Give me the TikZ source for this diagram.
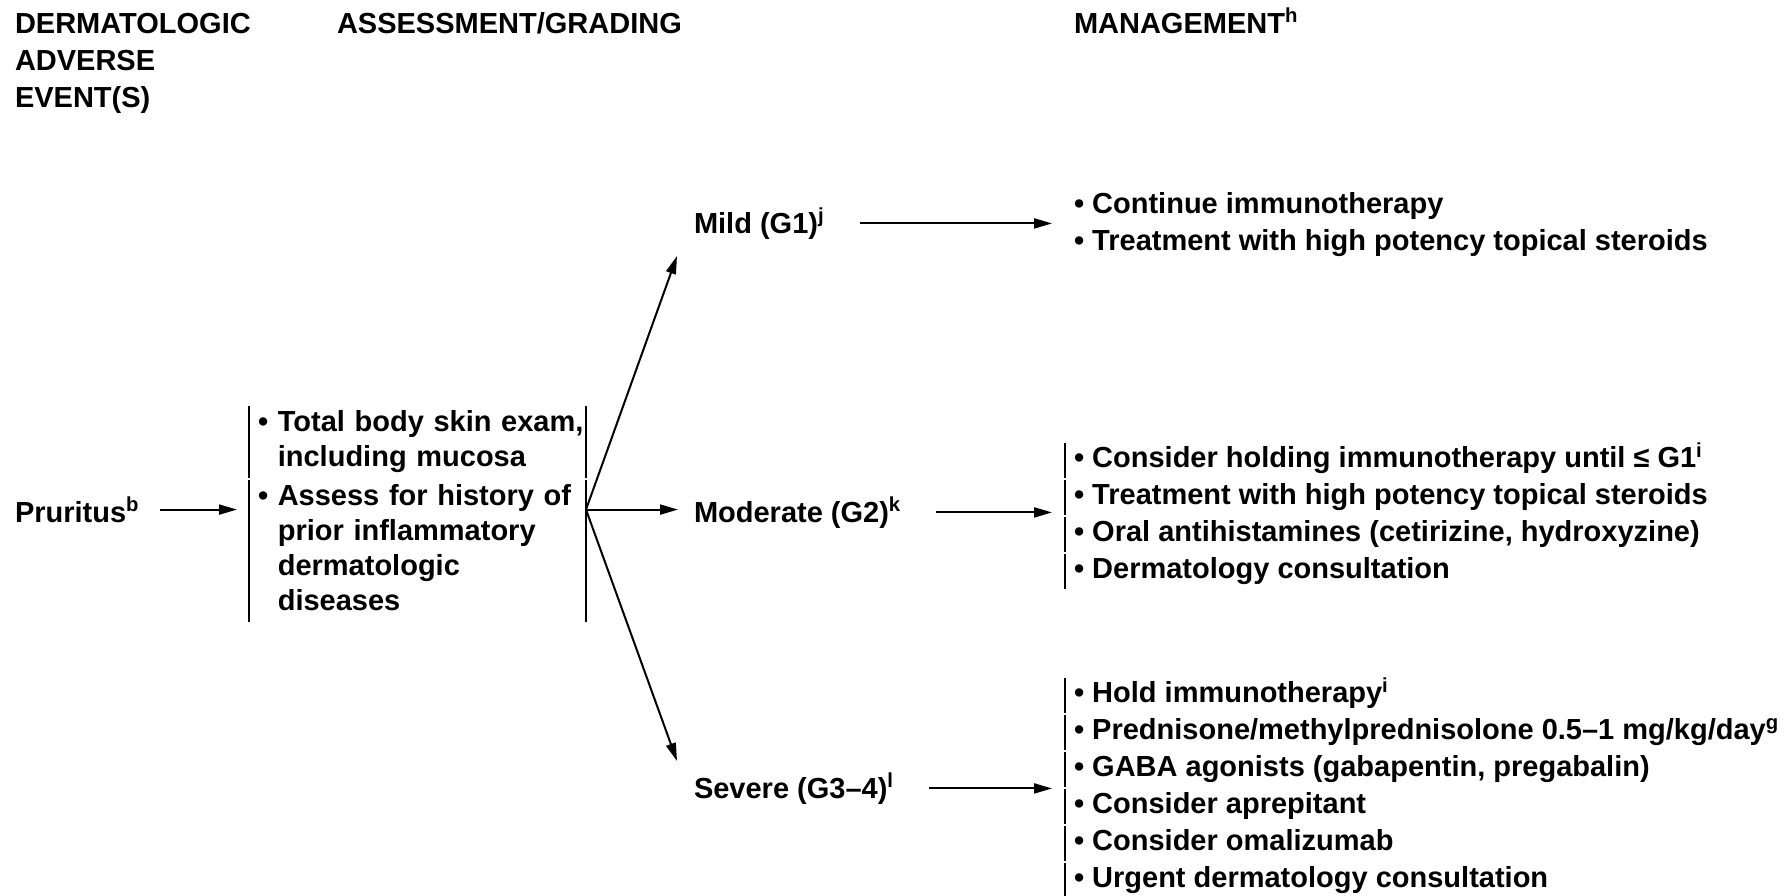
\documentclass[tikz,border=0pt]{standalone}
\usepackage{fontspec}
\setmainfont{Liberation Sans}
\usetikzlibrary{arrows.meta,positioning}

\tikzset{every picture/.style={line width=1pt}}
\tikzset{
  txt/.style={inner sep=0pt, font=\bfseries\fontsize{14.5}{17.5}\selectfont, align=left},
  hdr/.style={inner sep=0pt, font=\bfseries\fontsize{14.5}{18.5}\selectfont, align=left},
  asmbox/.style={txt, inner xsep=4pt, inner ysep=0.5pt, text width=159.5pt, anchor=north west},
  itm/.style={txt, inner xsep=4pt, inner ysep=0pt, anchor=north west, text height=12.25pt, text depth=5.25pt},
  bar/.style={line width=1pt, shorten <=0.5pt, shorten >=0.5pt},
  arr/.style={-{Triangle[length=9pt,width=5pt]}},
}

\begin{document}
\begin{tikzpicture}[x=0.5pt,y=0.5pt,yscale=-1]
\useasboundingbox (0,0) rectangle (1788,895);

% Headers
\node[hdr, anchor=north west] (hdae) at (14,12) {DERMATOLOGIC\\ADVERSE\\EVENT(S)};
\node[hdr, anchor=base west] (hdag) at (336,33) {ASSESSMENT/GRADING};
\node[hdr, anchor=base west] (hdmg) at (1073,33) {MANAGEMENT\textsuperscript{h}};

% Text Node
\node[txt, anchor=base west] (prur) at (14,522) {Pruritus\textsuperscript{b}};

% Assessment
\node[asmbox] (asm1) at (249,405) {\begin{tabular}{@{}l@{\ }l@{}}•&Total body skin exam,\\&including mucosa\end{tabular}};
\node[asmbox] (asm2) at (asm1.south west) {\begin{tabular}{@{}l@{\ }l@{}}•&Assess for history of\\&prior inflammatory\\&dermatologic\\&diseases\end{tabular}};
\draw[bar] (asm1.north west) -- (asm1.south west);
\draw[bar] (asm2.north west) -- (asm2.south west);
\draw[bar] (asm1.north east) -- (asm1.south east);
\draw[bar] (asm2.north east) -- (asm2.south east);

% Grades
\node[txt, anchor=base west] (mild) at (693,233) {Mild (G1)\textsuperscript{j}};
\node[txt, anchor=base west] (mod) at (693,522) {Moderate (G2)\textsuperscript{k}};
\node[txt, anchor=base west] (sev) at (693,798) {Severe (G3–4)\textsuperscript{l}};

% Management, mild
\node[itm] (mi1) at (1065,188) {• Continue immunotherapy};
\node[itm] (mi2) at (mi1.south west) {• Treatment with high potency topical steroids};

% Management, moderate
\node[itm] (md1) at (1065,442) {• Consider holding immunotherapy until ≤ G1\textsuperscript{i}};
\node[itm] (md2) at (md1.south west) {• Treatment with high potency topical steroids};
\node[itm] (md3) at (md2.south west) {• Oral antihistamines (cetirizine, hydroxyzine)};
\node[itm] (md4) at (md3.south west) {• Dermatology consultation};
\draw[bar] (md1.north west) -- (md1.south west);
\draw[bar] (md2.north west) -- (md2.south west);
\draw[bar] (md3.north west) -- (md3.south west);
\draw[bar] (md4.north west) -- (md4.south west);

% Management, severe
\node[itm] (sv1) at (1065,677) {• Hold immunotherapy\textsuperscript{i}};
\node[itm] (sv2) at (sv1.south west) {• Prednisone/methylprednisolone 0.5–1 mg/kg/day\textsuperscript{g}};
\node[itm] (sv3) at (sv2.south west) {• GABA agonists (gabapentin, pregabalin)};
\node[itm] (sv4) at (sv3.south west) {• Consider aprepitant};
\node[itm] (sv5) at (sv4.south west) {• Consider omalizumab};
\node[itm] (sv6) at (sv5.south west) {• Urgent dermatology consultation};
\draw[bar] (sv1.north west) -- (sv1.south west);
\draw[bar] (sv2.north west) -- (sv2.south west);
\draw[bar] (sv3.north west) -- (sv3.south west);
\draw[bar] (sv4.north west) -- (sv4.south west);
\draw[bar] (sv5.north west) -- (sv5.south west);
\draw[bar] (sv6.north west) -- (sv6.south west);

% Arrows
\coordinate (jn) at (asm2.east |- prur.east);
\coordinate (tmild) at (677,256);
\coordinate (tsev) at (677,761);
\draw[arr, shorten <=9.5pt, shorten >=6pt] (prur.east) -- (asm2.west |- prur.east);
\draw[arr] (jn) -- (tmild);
\draw[arr, shorten >=7.5pt] (jn) -- (mod.west |- jn);
\draw[arr] (jn) -- (tsev);
\draw[arr, shorten <=17pt, shorten >=6.5pt] (mild.east) -- (mi1.south west |- mild.east);
\draw[arr, shorten <=17pt, shorten >=6.5pt] (mod.east) -- (md1.south west |- mod.east);
\draw[arr, shorten <=17pt, shorten >=6.5pt] (sev.east) -- (sv1.south west |- sev.east);

\end{tikzpicture}
\end{document}
